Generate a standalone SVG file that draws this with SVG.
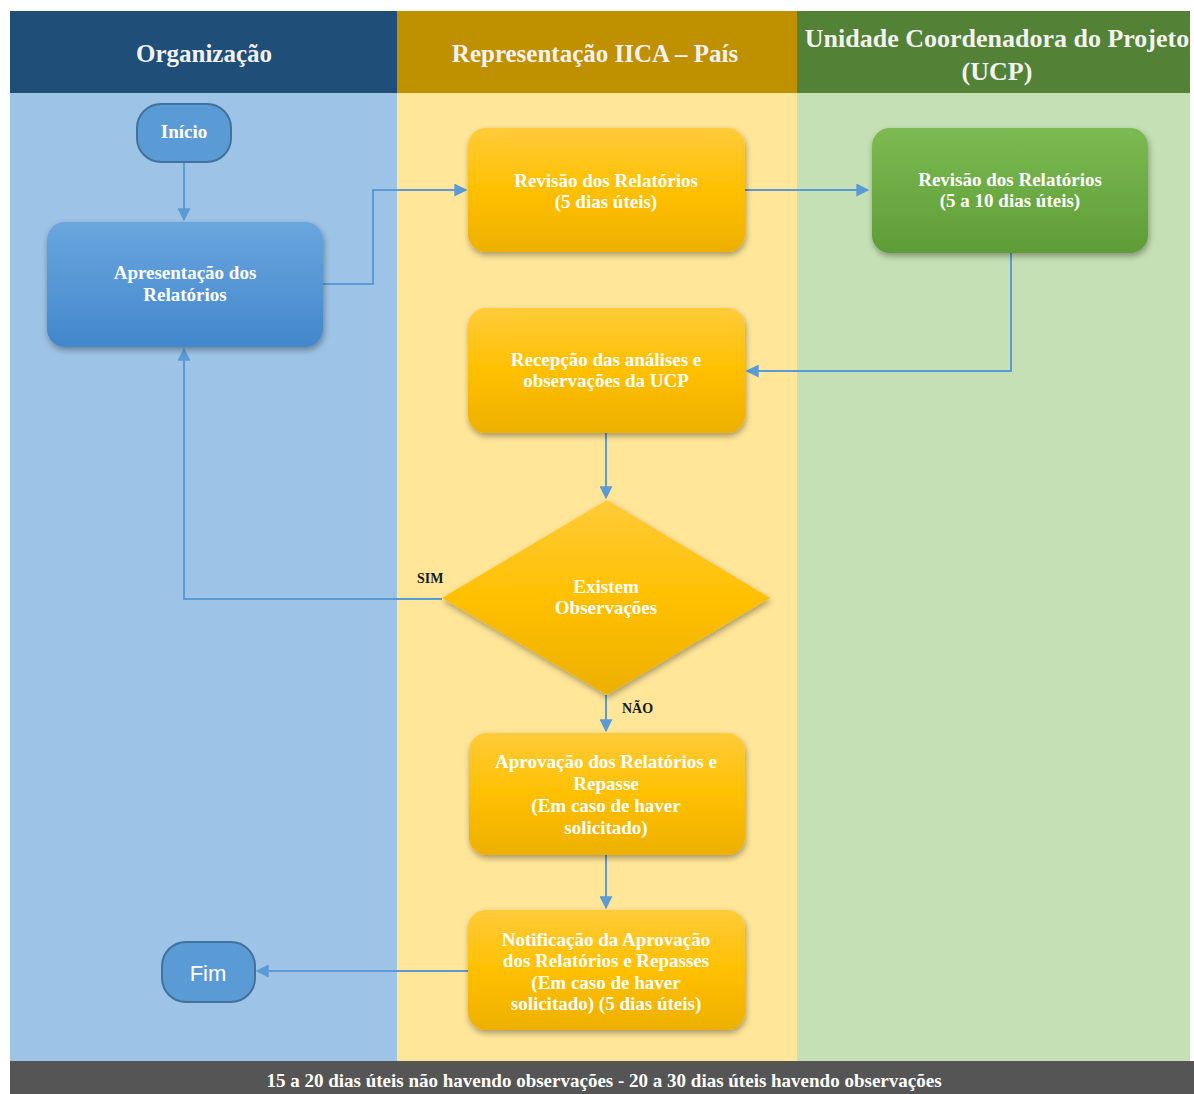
<svg xmlns="http://www.w3.org/2000/svg" width="1194" height="1094" viewBox="0 0 1194 1094">
<defs>
<style>
.hdr{font-family:"Liberation Serif","Times New Roman",serif;font-weight:bold;font-size:25px;fill:#F2F2F2;text-anchor:middle}
.nt{font-family:"Liberation Serif","Times New Roman",serif;font-weight:bold;font-size:19px;fill:#FFFFFF;text-anchor:middle}
.lbl{font-family:"Liberation Serif","Times New Roman",serif;font-weight:bold;font-size:14px;fill:#1a1a1a}
.con{fill:none;stroke:#5B9BD5;stroke-width:2}
.term{fill:#5B9BD5;stroke:#41719C;stroke-width:2}
</style>
<linearGradient id="gy" x1="0" y1="0" x2="0" y2="1">
<stop offset="0" stop-color="#FFCB3A"/><stop offset="0.5" stop-color="#FFC000"/><stop offset="1" stop-color="#EDB000"/>
</linearGradient>
<linearGradient id="gb" x1="0" y1="0" x2="0" y2="1">
<stop offset="0" stop-color="#6AA6DE"/><stop offset="1" stop-color="#4287CC"/>
</linearGradient>
<linearGradient id="gg" x1="0" y1="0" x2="0" y2="1">
<stop offset="0" stop-color="#7CBA52"/><stop offset="1" stop-color="#5E9C36"/>
</linearGradient>
<filter id="sh" x="-10%" y="-10%" width="125%" height="130%">
<feDropShadow dx="1" dy="3" stdDeviation="3" flood-color="#000" flood-opacity="0.35"/>
</filter>
<marker id="ar" viewBox="0 0 10 10" refX="9" refY="5" markerWidth="6.5" markerHeight="6.5" orient="auto" markerUnits="strokeWidth">
<path d="M0,0 L10,5 L0,10 z" fill="#5B9BD5"/>
</marker>
</defs>
<rect width="1194" height="1094" fill="#FFFFFF"/>
<g id="lanes">
<rect x="10" y="93" width="387" height="968" fill="#9DC3E6"/>
<rect x="397" y="93" width="400" height="968" fill="#FFE699"/>
<rect x="797" y="93" width="393" height="968" fill="#C5E0B4"/>
<rect x="10" y="11" width="387" height="82" fill="#1F4E79"/>
<rect x="397" y="11" width="400" height="82" fill="#BF9000"/>
<rect x="797" y="11" width="393" height="82" fill="#538135"/>
<text class="hdr" x="204" y="62">Organização</text>
<text class="hdr" x="595" y="62">Representação IICA – País</text>
<text class="hdr" x="997" y="47" style="font-size:26px">Unidade Coordenadora do Projeto</text>
<text class="hdr" x="997" y="80" style="font-size:26px">(UCP)</text>
</g>
<g id="footer">
<rect x="10" y="1061" width="1184" height="33" fill="#555555"/>
<text x="604" y="1087" font-family="Liberation Serif, Times New Roman, serif" font-weight="bold" font-size="19" fill="#FFFFFF" text-anchor="middle">15 a 20 dias úteis não havendo observações - 20 a 30 dias úteis havendo observações</text>
</g>
<g id="connectors">
<path class="con" d="M184,163 L184,220" marker-end="url(#ar)"/>
<path class="con" d="M323,284 L373,284 L373,190 L466,190" marker-end="url(#ar)"/>
<path class="con" d="M745,190 L868,190" marker-end="url(#ar)"/>
<path class="con" d="M1011,253 L1011,371 L747,371" marker-end="url(#ar)"/>
<path class="con" d="M606,433 L606,498" marker-end="url(#ar)"/>
<path class="con" d="M442,599 L184,599 L184,349" marker-end="url(#ar)"/>
<path class="con" d="M606,695 L606,731" marker-end="url(#ar)"/>
<path class="con" d="M606,855 L606,908" marker-end="url(#ar)"/>
<path class="con" d="M468,971 L257,971" marker-end="url(#ar)"/>
<text class="lbl" x="417" y="583">SIM</text>
<text class="lbl" x="622" y="713">NÃO</text>
</g>
<g id="inicio">
<rect class="term" x="137" y="104" width="94" height="58" rx="24" ry="24"/>
<text class="nt" x="184" y="138">Início</text>
</g>
<g id="apresentacao">
<rect x="47" y="222" width="276" height="125" rx="18" fill="url(#gb)" filter="url(#sh)"/>
<text class="nt" x="185" y="279">Apresentação dos</text>
<text class="nt" x="185" y="301">Relatórios</text>
</g>
<g id="revisao-iica">
<rect x="468" y="128" width="277" height="124" rx="18" fill="url(#gy)" filter="url(#sh)"/>
<text class="nt" x="606" y="187">Revisão dos Relatórios</text>
<text class="nt" x="606" y="208">(5 dias úteis)</text>
</g>
<g id="revisao-ucp">
<rect x="872" y="128" width="276" height="125" rx="18" fill="url(#gg)" filter="url(#sh)"/>
<text class="nt" x="1010" y="186">Revisão dos Relatórios</text>
<text class="nt" x="1010" y="207">(5 a 10 dias úteis)</text>
</g>
<g id="recepcao">
<rect x="468" y="308" width="277" height="125" rx="18" fill="url(#gy)" filter="url(#sh)"/>
<text class="nt" x="606" y="366">Recepção das análises e</text>
<text class="nt" x="606" y="387">observações da UCP</text>
</g>
<g id="decisao">
<polygon points="607,500 770,598 607,695 442,598" fill="url(#gy)" filter="url(#sh)"/>
<text class="nt" x="606" y="593">Existem</text>
<text class="nt" x="606" y="614">Observações</text>
</g>
<g id="aprovacao">
<rect x="469" y="733" width="276" height="122" rx="18" fill="url(#gy)" filter="url(#sh)"/>
<text class="nt" x="606" y="768">Aprovação dos Relatórios e</text>
<text class="nt" x="606" y="790">Repasse</text>
<text class="nt" x="606" y="812">(Em caso de haver</text>
<text class="nt" x="606" y="834">solicitado)</text>
</g>
<g id="notificacao">
<rect x="468" y="910" width="277" height="120" rx="18" fill="url(#gy)" filter="url(#sh)"/>
<text class="nt" x="606" y="946">Notificação da Aprovação</text>
<text class="nt" x="606" y="967">dos Relatórios e Repasses</text>
<text class="nt" x="606" y="989">(Em caso de haver</text>
<text class="nt" x="606" y="1010">solicitado) (5 dias úteis)</text>
</g>
<g id="fim">
<rect class="term" x="162" y="942" width="93" height="60" rx="24" ry="24"/>
<text x="208" y="981" font-family="Liberation Sans, Arial, sans-serif" font-size="22" fill="#FFFFFF" text-anchor="middle">Fim</text>
</g>
</svg>
